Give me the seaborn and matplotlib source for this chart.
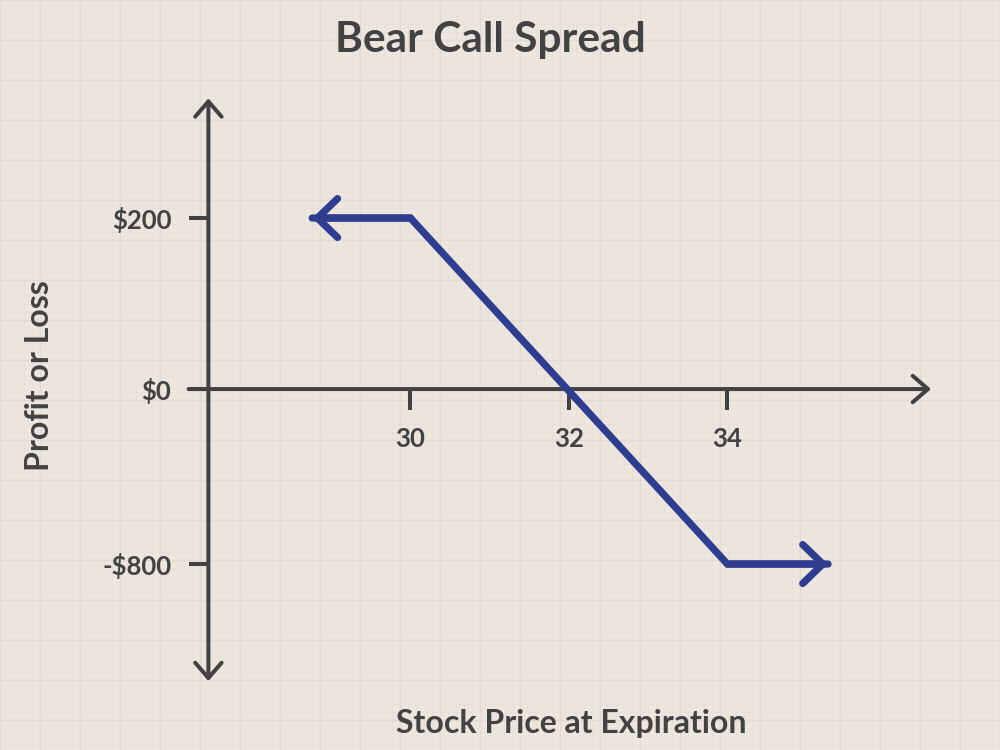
import numpy as np
import pandas as pd
import matplotlib
matplotlib.use("Agg")
import matplotlib.pyplot as plt
import seaborn as sns

# ---- data ----
title = "Bear Call Spread"
x_label = "Stock Price at Expiration"
y_label = "Profit or Loss"
stock_price = [28.76, 30, 34, 35.27]
profit_loss = [200, 200, -800, -800]
x_ticks = [30, 32, 34]
x_tick_labels = ["30", "32", "34"]
y_ticks = [200, 0, -800]
y_tick_labels = ["$200", "$0", "-$800"]

# ---- style ----
sns.set_theme(style="white")
plt.rcParams["font.family"] = ["Lato", "DejaVu Sans"]
BG = "#ece6df"
INK = "#424242"
BLUE = "#2e3d8f"

fig = plt.figure(figsize=(10, 7.5), dpi=100, facecolor=BG)

# background graph-paper grid
bg = fig.add_axes([0, 0, 1, 1], zorder=-1)
bg.set_facecolor(BG)
bg.set_xlim(0, 1000)
bg.set_ylim(750, 0)
bg.set_xticks(np.arange(0, 1001, 40))
bg.set_yticks(np.arange(0, 751, 40))
bg.set_xticks(np.arange(0, 1001, 8), minor=True)
bg.set_yticks(np.arange(0, 751, 8), minor=True)
bg.grid(True, which="major", color="#e2dbd4", lw=1.0)
bg.grid(True, which="minor", color="#e7e1da", lw=0.6)
bg.tick_params(which="both", length=0, labelbottom=False, labelleft=False)
for s in bg.spines.values():
    s.set_visible(False)

ax = fig.add_axes([0, 0, 1, 1])
ax.set_facecolor("none")

# schematic (piecewise linear) profit scale
def fwd(y):
    y = np.asarray(y, dtype=float)
    return np.where(y >= 0, y * 171 / 200, y * 175 / 800)

def inv(v):
    v = np.asarray(v, dtype=float)
    return np.where(v >= 0, v * 200 / 171, v * 800 / 175)

ax.set_yscale("function", functions=(fwd, inv))
ax.set_xlim(24.82, 37.44)
ax.set_ylim(-1650, 455)

df = pd.DataFrame({"price": stock_price, "pl": profit_loss})
sns.lineplot(data=df, x="price", y="pl", ax=ax, color=BLUE, lw=5.2,
             sort=False, estimator=None, solid_joinstyle="miter", zorder=5)
ax.set_xlabel("")
ax.set_ylabel("")

# arrowheads on the payoff line
head = dict(arrowstyle="->,head_length=1.45,head_width=1.4", color=BLUE,
            lw=5.2, shrinkA=0, shrinkB=0, mutation_scale=10)
ax.annotate("", xy=(stock_price[0], profit_loss[0]),
            xytext=(stock_price[1], profit_loss[1]), arrowprops=head, zorder=6)
ax.annotate("", xy=(stock_price[-1], profit_loss[-1]),
            xytext=(stock_price[-2], profit_loss[-2]), arrowprops=head, zorder=6)

# axes with arrows
y_axis_x = 27.45
ax.spines["left"].set_position(("data", y_axis_x))
ax.spines["bottom"].set_position(("data", 0))
for s in ax.spines.values():
    s.set_visible(False)
axis_arrow = dict(arrowstyle="->,head_length=1.1,head_width=0.95", color=INK,
                  lw=2.9, shrinkA=0, shrinkB=0, mutation_scale=10)
ax.annotate("", xy=(36.57, 0), xytext=(27.2, 0), arrowprops=axis_arrow)
ax.annotate("", xy=(y_axis_x, 340), xytext=(y_axis_x, 0), arrowprops=axis_arrow)
ax.annotate("", xy=(y_axis_x, -1335), xytext=(y_axis_x, 0), arrowprops=axis_arrow)

ax.set_xticks(x_ticks)
ax.set_xticklabels(x_tick_labels)
ax.set_yticks(y_ticks)
ax.set_yticklabels(y_tick_labels)
ax.tick_params(axis="x", direction="out", length=15, width=2.9, color=INK,
               pad=12, labelsize=18.5, labelcolor=INK, bottom=True)
ax.tick_params(axis="y", direction="out", length=13.7, width=2.9, color=INK,
               pad=13, labelsize=18.5, labelcolor=INK, left=True)
for lab in ax.get_xticklabels() + ax.get_yticklabels():
    lab.set_fontweight("bold")

ax.text(0.49, 1 - 40 / 750, title, transform=ax.transAxes, ha="center",
        va="center", fontsize=30.5, fontweight="bold", color=INK)
ax.text(0.571, 1 - 723 / 750, x_label, transform=ax.transAxes, ha="center",
        va="center", fontsize=23, fontweight="bold", color=INK)
ax.text(0.040, 1 - 376 / 750, y_label, transform=ax.transAxes, ha="center",
        va="center", fontsize=23, fontweight="bold", color=INK, rotation=90)

fig.savefig("out.png", dpi=100, facecolor=BG)
